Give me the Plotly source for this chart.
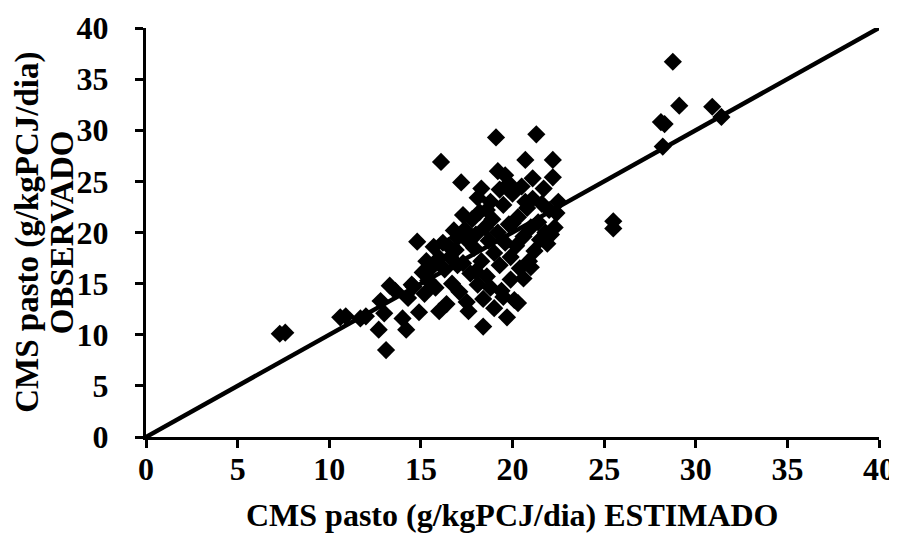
import plotly.graph_objects as go

# Estimated (x) vs observed (y) CMS pasto values
x_est = [7.3, 7.6, 10.6, 10.9, 11.7, 12.0, 12.7, 12.8, 13.1, 13.0, 13.3, 13.6, 14.0, 14.2, 14.3,
         14.5, 14.8, 14.9, 15.1, 15.3, 15.4, 15.7, 15.8, 16.0, 16.1, 16.2, 16.3, 16.4, 16.6, 16.7,
         16.9, 17.0, 17.2, 17.3, 17.4, 17.5, 17.6, 17.7, 17.8, 17.9, 18.0, 18.1, 18.1, 18.2, 18.3,
         18.3, 18.4, 18.4, 18.5, 18.6, 18.7, 18.8, 18.9, 19.0, 19.0, 19.1, 19.2, 19.3, 19.4, 19.5,
         19.6, 19.6, 19.7, 19.8, 19.8, 19.9, 19.9, 20.0, 20.1, 20.2, 20.3, 20.3, 20.4, 20.5, 20.6,
         20.7, 20.8, 20.9, 21.0, 21.1, 21.2, 21.3, 21.4, 21.5, 21.6, 21.7, 21.8, 22.0, 22.1, 22.2,
         22.2, 22.4, 22.5, 22.3, 25.5, 25.5, 28.1, 28.3, 28.2, 28.75, 29.1, 30.9, 31.4,
         16.0, 15.6, 16.8, 17.1, 17.6, 18.6, 19.3, 20.7, 21.1, 20.0, 21.9, 17.3, 18.0, 19.5, 18.8,
         20.6, 21.0, 19.2, 17.0, 15.2, 14.6, 16.5]
y_obs = [10.1, 10.2, 11.7, 11.8, 11.6, 11.8, 10.5, 13.3, 8.5, 12.1, 14.8, 14.3, 11.6, 10.5, 13.6,
         14.9, 19.1, 12.2, 16.1, 17.2, 15.3, 18.6, 14.6, 12.3, 26.9, 19.0, 16.4, 13.0, 17.6, 15.0,
         18.3, 19.5, 24.9, 17.0, 20.3, 13.2, 12.3, 16.0, 21.3, 18.5, 19.8, 23.4, 14.9, 22.0, 24.3,
         17.2, 13.5, 10.8, 20.5, 15.7, 19.2, 23.0, 21.3, 18.0, 12.6, 29.3, 20.0, 16.8, 14.3, 22.7,
         25.6, 19.0, 11.7, 24.8, 20.8, 15.4, 17.6, 23.8, 13.4, 18.7, 13.1, 21.5, 16.5, 24.5, 19.6,
         27.1, 22.4, 17.2, 20.5, 23.3, 18.2, 29.6, 21.0, 19.3, 22.8, 24.3, 20.0, 22.2, 19.8, 27.1,
         25.4, 21.9, 23.0, 20.5, 21.1, 20.4, 30.8, 30.6, 28.4, 36.7, 32.4, 32.3, 31.3,
         17.5, 16.6, 20.2, 14.2, 19.1, 22.2, 24.2, 23.0, 25.3, 20.9, 18.9, 21.7, 16.2, 13.7, 14.6,
         15.5, 16.6, 26.0, 16.8, 14.0, 14.7, 18.7]

line_x = [0, 40]
line_y = [0, 40]

tick_vals = [0, 5, 10, 15, 20, 25, 30, 35, 40]

x_title = "CMS pasto (g/kgPCJ/dia) ESTIMADO"
y_title_1 = "CMS pasto (g/kgPCJ/dia)"
y_title_2 = "OBSERVADO"

font_family = "Liberation Serif, Times New Roman, serif"

fig = go.Figure()
fig.add_trace(go.Scatter(
    x=x_est, y=y_obs, mode="markers",
    marker=dict(symbol="diamond", size=14, color="black", line=dict(width=0)),
    showlegend=False, cliponaxis=False,
))
fig.add_trace(go.Scatter(
    x=line_x, y=line_y, mode="lines",
    line=dict(color="black", width=4.5),
    showlegend=False,
))

axis_common = dict(
    range=[0, 40], tickvals=tick_vals, ticks="outside", ticklen=8, tickwidth=3,
    tickcolor="black", showline=True, linewidth=3, linecolor="black",
    showgrid=False, zeroline=False, automargin=False,
    tickfont=dict(family=font_family, size=32, color="black", weight="bold"),
)

fig.update_layout(
    width=889, height=525,
    margin=dict(l=138, r=18, t=20, b=96),
    paper_bgcolor="white", plot_bgcolor="white",
    xaxis=dict(**axis_common, ticklabelstandoff=-6),
    yaxis=dict(**axis_common, ticklabelstandoff=20),
    annotations=[
        dict(text=x_title, xref="paper", yref="paper", x=0.5, y=-0.19,
             xanchor="center", yanchor="middle", showarrow=False,
             font=dict(family=font_family, size=32, color="black", weight="bold")),
        dict(text=y_title_1, xref="paper", yref="paper", x=-0.162, y=0.5,
             xanchor="center", yanchor="middle", showarrow=False, textangle=-90,
             font=dict(family=font_family, size=33, color="black", weight="bold")),
        dict(text=y_title_2, xref="paper", yref="paper", x=-0.115, y=0.5,
             xanchor="center", yanchor="middle", showarrow=False, textangle=-90,
             font=dict(family=font_family, size=33, color="black", weight="bold")),
    ],
)

fig.write_html("out.html")
